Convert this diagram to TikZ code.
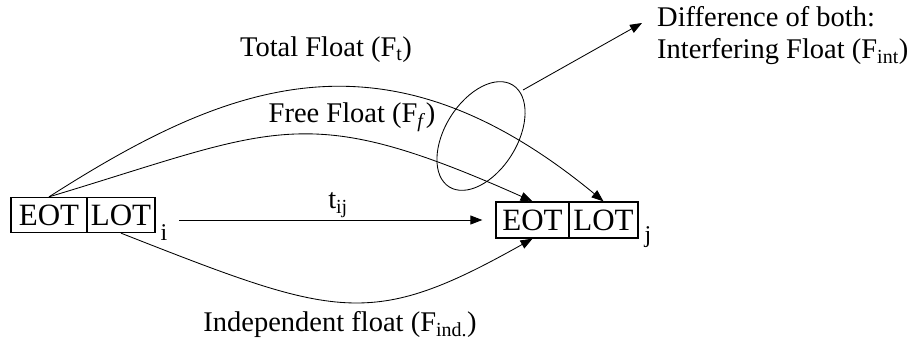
\documentclass[tikz,border=0pt]{standalone}
\usepackage{fontspec}
\setmainfont{Liberation Serif}
\usetikzlibrary{arrows.meta,shapes.geometric}
\tikzset{
  boxcell/.style={draw, line width=1.3pt, minimum height=35pt, inner sep=0pt,
    font=\fontsize{31}{32}\selectfont},
  arr/.style={-{Triangle[length=12pt,width=9pt]}, line width=0.85pt},
  lbl/.style={font=\fontsize{28.5}{32}\selectfont, inner sep=0pt},
  idx/.style={font=\fontsize{24}{25}\selectfont, inner sep=0pt},
}
\begin{document}
\begin{tikzpicture}[x=1pt,y=-1pt]
\useasboundingbox (0,0) rectangle (915,340);
% boxes
\node[boxcell, minimum width=76pt] (iE) at (49,215) {EOT};
\node[boxcell, minimum width=68pt] (iL) at (121,215) {LOT};
\node[boxcell, minimum width=73pt, minimum height=36pt] (jE) at (532.5,220) {EOT};
\node[boxcell, minimum width=69pt, minimum height=36pt] (jL) at (603.5,220) {LOT};
\node[idx] (isub) at (164,233) {i};
\node[idx] (jsub) at (648,237) {j};
% duration arrow
\coordinate (ts) at (179,220);
\draw[arr] (ts) -- ([xshift=-13pt]jE.west);
\node[lbl] (tij) at (338,205) {t\textsubscript{ij}};
% floats
\draw[arr] (iE.north) .. controls (230,81) and (386,22) .. (jL.north);
\draw[arr] (iE.north) .. controls (278,128) and (303,99) .. (jE.north);
\draw[arr] (iL.south) .. controls (337,318) and (370,330) .. (jE.south);
\node[lbl] (tf) at (326,50) {Total Float (F\textsubscript{t})};
\node[lbl] (ff) at (352,117) {Free Float (F\textsubscript{\textit{f}})};
\node[lbl] (if) at (340,324) {Independent float (F\textsubscript{ind.})};
% ellipse and interfering float
\node[draw, ellipse, line width=0.85pt, rotate=58, minimum width=120pt, minimum height=72pt, inner sep=0pt] (ell) at (481,136) {};
\coordinate (es) at (523,90);
\coordinate (et) at (642,23);
\draw[arr] (es) -- (et);
\node[lbl, anchor=west, align=left] (diff) at (657,36) {Difference of both:\\Interfering Float (F\textsubscript{int})};
\end{tikzpicture}
\end{document}
